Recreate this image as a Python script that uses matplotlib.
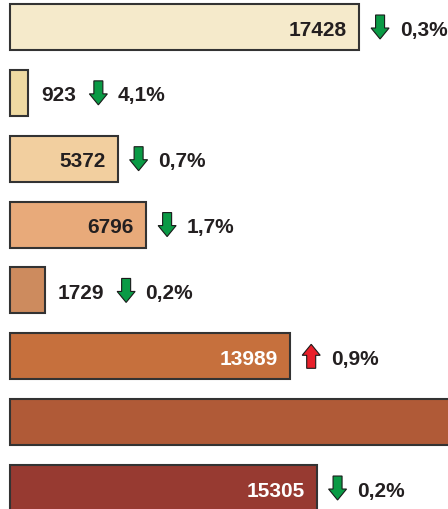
import numpy as np
import matplotlib
matplotlib.use('Agg')
import matplotlib.pyplot as plt
from matplotlib import transforms
from matplotlib.patches import Polygon

# Data (7th bar runs off the right edge, value estimated)
values = [17428, 923, 5372, 6796, 1729, 13989, 24000, 15305]
changes = ['0,3%', '4,1%', '0,7%', '1,7%', '0,2%', '0,9%', None, '0,2%']
directions = ['down', 'down', 'down', 'down', 'down', 'up', None, 'down']
bar_colors = ['#F5EACB', '#EFDAA2', '#F2CF9F', '#E8AA7A',
              '#CD8B5E', '#C6703D', '#B05A37', '#973A31']
label_colors = ['#231F20', '#231F20', '#231F20', '#231F20',
                '#231F20', 'white', 'white', 'white']

W, H, DPI = 448, 510, 100
plt.rcParams['font.family'] = ['Liberation Sans', 'DejaVu Sans']

fig = plt.figure(figsize=(W / DPI, H / DPI), dpi=DPI)
ax = fig.add_axes([0, 0, 1, 1])
ax.set_axis_off()

# pixel mapping: x_px = 10 + 0.02003*v, bar centres at 28 + 65.86*i
px_per_unit = 0.02003
ax.set_xlim(-10 / px_per_unit, (W - 10) / px_per_unit)
pitch = 65.86
ax.set_ylim((H - 28) / pitch, -28 / pitch)

y = np.arange(len(values))
ax.barh(y, values, height=0.70, color=bar_colors, edgecolor='#333333',
        linewidth=1.5, clip_on=True)

fs = 15
text_kw = dict(fontsize=fs, fontweight='bold', va='baseline')

# value labels: inside when the bar is wide enough, else just outside
labels = []
for i, v in enumerate(values):
    inside = v > 3000
    if inside:
        tr = transforms.offset_copy(ax.transData, fig, x=-12, y=-7.5, units='dots')
        t = ax.text(v, i, str(v), ha='right', color=label_colors[i],
                    transform=tr, **text_kw)
    else:
        tr = transforms.offset_copy(ax.transData, fig, x=13, y=-7.5, units='dots')
        t = ax.text(v, i, str(v), ha='left', color='#231F20',
                    transform=tr, **text_kw)
    labels.append((t, inside))

fig.canvas.draw()
renderer = fig.canvas.get_renderer()

down = np.array([(-4.5, 12), (4.5, 12), (4.5, -1), (9, -1), (0, -12),
                 (-9, -1), (-4.5, -1)])
up = down * np.array([1, -1])
ident = transforms.IdentityTransform()

for i, v in enumerate(values):
    t, inside = labels[i]
    if changes[i] is None:
        t.remove()
        continue
    bx, by = ax.transData.transform((v, i))
    if inside:
        anchor = bx
        shift_a, shift_t = 21, 41
    else:
        anchor = t.get_window_extent(renderer).x1
        shift_a, shift_t = 22, 41
    shape = down if directions[i] == 'down' else up
    color = '#0A9A45' if directions[i] == 'down' else '#E8202A'
    poly = Polygon(shape + np.array([anchor + shift_a, by]), closed=True,
                   facecolor=color, edgecolor='#1A1A1A', linewidth=0.8,
                   transform=ident)
    fig.add_artist(poly)
    fig.text(anchor + shift_t, by - 7.5, changes[i], ha='left',
             color='#231F20', transform=ident, **text_kw)

fig.savefig('out.png', dpi=DPI)
